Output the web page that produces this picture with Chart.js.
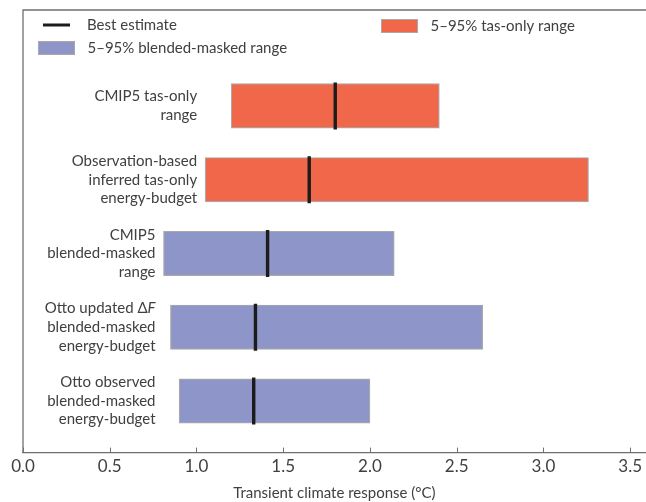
<!DOCTYPE html>
<html>
<head>
<meta charset="utf-8">
<script src="https://cdn.jsdelivr.net/npm/chart.js@4.4.1/dist/chart.umd.min.js"></script>
<style>
  html, body { margin: 0; padding: 0; background: #fff; overflow: hidden; }
  #wrap { width: 646px; height: 502px; }
</style>
</head>
<body>
<div id="wrap"><canvas id="tcr" width="646" height="502"></canvas></div>
<script>
// Transient climate response estimates: 5–95% ranges and best estimates (°C)
const categories = [
  ['CMIP5 tas-only', 'range'],
  ['Observation-based', 'inferred tas-only', 'energy-budget'],
  ['CMIP5', 'blended-masked', 'range'],
  ['Otto updated Δ*F*', 'blended-masked', 'energy-budget'],
  ['Otto observed', 'blended-masked', 'energy-budget']
];
const rangeLow  = [1.20, 1.05, 0.81, 0.85, 0.90];
const rangeHigh = [2.40, 3.26, 2.14, 2.65, 2.00];
const bestEstimate = [1.80, 1.65, 1.41, 1.34, 1.33];
const rangeType = ['tas', 'tas', 'blended', 'blended', 'blended'];
const xTickValues = [0, 0.5, 1.0, 1.5, 2.0, 2.5, 3.0, 3.5];

const seriesNames = {
  tas: '5–95% tas-only range',
  blended: '5–95% blended-masked range',
  best: 'Best estimate'
};
const colours = { tas: '#f0674a', blended: '#8e95c8', best: '#1c1c1c' };
const TEXT = '#404040';
const AXIS = '#6f6f6f';
const FONT = 'Lato, "Open Sans", sans-serif';

// category rows counted from the bottom (top row has the highest value)
const rowPos = categories.map((_, i) => categories.length - i);

function rangeData(kind) {
  return categories.map((_, i) => rangeType[i] === kind ? { y: rowPos[i], x: [rangeLow[i], rangeHigh[i]] } : null)
                   .filter(d => d !== null);
}

const rangeStyle = {
  type: 'bar',
  grouped: false,
  borderWidth: 1.2,
  borderColor: '#a9a9a9',
  borderSkipped: false,
  barThickness: 44.4,
  order: 2
};

// Draws a line of text where *...* segments are set in italics; right-aligned at x
function drawRichRight(ctx, str, x, y, size) {
  const parts = str.split('*').map((t, k) => ({ t, italic: k % 2 === 1 })).filter(p => p.t.length);
  const fontFor = p => (p.italic ? 'italic ' : '') + size + 'px ' + FONT;
  let total = 0;
  parts.forEach(p => { ctx.font = fontFor(p); total += ctx.measureText(p.t).width; });
  let cx = x - total;
  ctx.textAlign = 'left';
  parts.forEach(p => { ctx.font = fontFor(p); ctx.fillText(p.t, cx, y); cx += ctx.measureText(p.t).width; });
}

const framePlugin = {
  id: 'frameAndNotes',
  afterDraw(chart) {
    const { ctx, chartArea: a, scales: { x, y } } = chart;
    ctx.save();
    // left spine and top spine
    ctx.strokeStyle = AXIS;
    ctx.lineWidth = 1.3;
    ctx.beginPath();
    ctx.moveTo(a.left, a.bottom);
    ctx.lineTo(a.left, a.top);
    ctx.lineTo(chart.width, a.top);
    ctx.stroke();
    // inward tick marks on the x axis
    ctx.lineWidth = 1;
    x.ticks.forEach(t => {
      const px = Math.round(x.getPixelForValue(t.value)) + 0.5;
      ctx.beginPath();
      ctx.moveTo(px, a.bottom);
      ctx.lineTo(px, a.bottom - 5);
      ctx.stroke();
    });

    // row labels, right-aligned just left of the leftmost bar of their group
    ctx.fillStyle = TEXT;
    ctx.textBaseline = 'middle';
    const lineH = 18.6;
    categories.forEach((lines, i) => {
      const groupLows = rangeLow.filter((_, j) => rangeType[j] === rangeType[i]);
      const ax = x.getPixelForValue(Math.min(...groupLows)) - 8;
      const cy = y.getPixelForValue(rowPos[i]);
      lines.forEach((ln, k) => {
        const ly = cy + (k - (lines.length - 1) / 2) * lineH;
        drawRichRight(ctx, ln, ax, ly, 15);
      });
    });

    // legend inside the frame
    ctx.font = '15px ' + FONT;
    ctx.textAlign = 'left';
    ctx.textBaseline = 'middle';
    const L = a.left;
    ctx.strokeStyle = colours.best;
    ctx.lineWidth = 3;
    ctx.beginPath();
    ctx.moveTo(L + 20, a.top + 15);
    ctx.lineTo(L + 47, a.top + 15);
    ctx.stroke();
    ctx.fillStyle = TEXT;
    ctx.fillText(seriesNames.best, L + 64, a.top + 15);
    const patch = (px, py, fill, label) => {
      ctx.fillStyle = fill;
      ctx.fillRect(px, py, 37, 14);
      ctx.strokeStyle = '#a9a9a9';
      ctx.lineWidth = 1;
      ctx.strokeRect(px + 0.5, py + 0.5, 36, 13);
      ctx.fillStyle = TEXT;
      ctx.fillText(label, px + 49.5, py + 7);
    };
    patch(L + 15, a.top + 31, colours.blended, seriesNames.blended);
    patch(L + 358, a.top + 9, colours.tas, seriesNames.tas);
    ctx.restore();
  }
};

new Chart(document.getElementById('tcr'), {
  data: {
    datasets: [
      Object.assign({ label: seriesNames.tas, data: rangeData('tas'), backgroundColor: colours.tas }, rangeStyle),
      Object.assign({ label: seriesNames.blended, data: rangeData('blended'), backgroundColor: colours.blended }, rangeStyle),
      {
        type: 'scatter',
        label: seriesNames.best,
        data: categories.map((_, i) => ({ x: bestEstimate[i], y: rowPos[i] })),
        pointStyle: 'line',
        rotation: 90,
        radius: 23.5,
        borderWidth: 3.4,
        borderColor: colours.best,
        backgroundColor: colours.best,
        showLine: false,
        order: 0
      }
    ]
  },
  options: {
    indexAxis: 'y',
    responsive: false,
    animation: false,
    devicePixelRatio: 1,
    layout: { autoPadding: false, padding: { left: 23, top: 10, right: 0, bottom: 0 } },
    plugins: { legend: { display: false }, tooltip: { enabled: false } },
    scales: {
      y: {
        type: 'linear',
        min: 0.3,
        max: 6.3,
        offset: false,
        display: false
      },
      x: {
        type: 'linear',
        position: 'bottom',
        min: 0,
        max: 3.59,
        offset: false,
        afterBuildTicks: scale => { scale.ticks = xTickValues.map(v => ({ value: v })); },
        grid: { display: false, drawTicks: false },
        border: { display: true, color: AXIS, width: 1.3 },
        ticks: {
          color: TEXT,
          padding: 4,
          font: { family: FONT, size: 17 },
          callback: v => Number(v).toFixed(1)
        },
        title: {
          display: true,
          text: 'Transient climate response (°C)',
          color: TEXT,
          font: { family: FONT, size: 15 },
          padding: { top: 3, bottom: 0 }
        }
      }
    }
  },
  plugins: [framePlugin]
});
</script>
</body>
</html>
